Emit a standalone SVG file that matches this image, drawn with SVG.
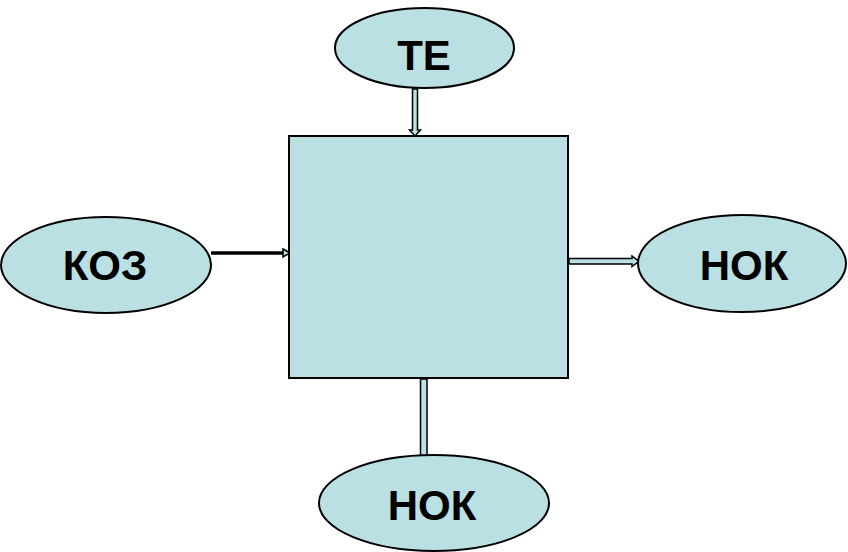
<svg xmlns="http://www.w3.org/2000/svg" width="848" height="552" viewBox="0 0 848 552">
<style>
.n{fill:#BAE0E3;stroke:#000;stroke-width:2}
.t{font-family:"Liberation Sans",Arial,sans-serif;font-weight:bold;font-size:42px;text-anchor:middle;fill:#000}
.a{fill:#BAE0E3;stroke:#000;stroke-width:1.5;stroke-linejoin:miter}
</style>
<rect width="848" height="552" fill="#fff"/>
<g id="connectors">
<path class="a" d="M412.5,89 V130 H409.5 L415,136 L420.5,130 H417.5 V89 Z"/>
<line x1="211" y1="253" x2="284" y2="253" stroke="#000" stroke-width="3.5"/>
<polygon class="a" points="283,249 290,253 283,257"/>
<path class="a" d="M569,258.5 H632 V256 L639,261.3 L632,266.6 V264 H569 Z"/>
<path class="a" d="M420.5,379 V456 H427 V379 Z"/>
</g>
<g id="center">
<rect class="n" x="289" y="136" width="279" height="242"/>
</g>
<g id="te">
<ellipse class="n" cx="424.5" cy="48" rx="89.5" ry="40"/>
<text class="t" x="424" y="70">ТЕ</text>
</g>
<g id="koz">
<ellipse class="n" cx="106" cy="265" rx="105" ry="48"/>
<text class="t" x="105" y="280">КОЗ</text>
</g>
<g id="nok-right">
<ellipse class="n" cx="742" cy="263.5" rx="104" ry="48.5"/>
<text class="t" x="744" y="280">НОК</text>
</g>
<g id="nok-bottom">
<ellipse class="n" cx="434" cy="503" rx="115" ry="48"/>
<text class="t" x="432" y="520">НОК</text>
</g>
</svg>
